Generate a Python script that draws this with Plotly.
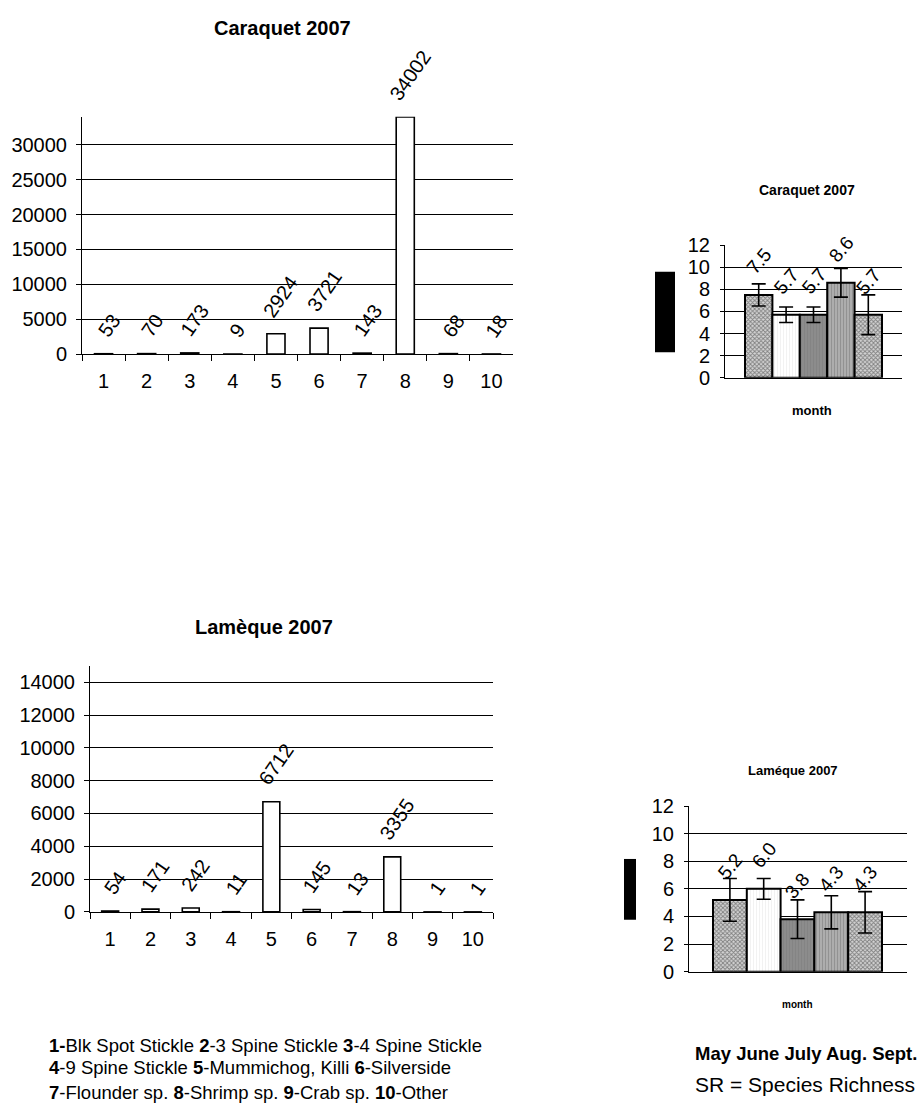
import plotly.graph_objects as go

# ---- data -------------------------------------------------------------
species = ["1", "2", "3", "4", "5", "6", "7", "8", "9", "10"]
caraquet_counts = [53, 70, 173, 9, 2924, 3721, 143, 34002, 68, 18]
lameque_counts = [54, 171, 242, 11, 6712, 145, 13, 3355, 1, 1]

months = ["May", "June", "July", "Aug.", "Sept."]
caraquet_sr = [7.5, 5.7, 5.7, 8.6, 5.7]
caraquet_sr_err = [1.0, 0.7, 0.7, 1.3, 1.8]
lameque_sr = [5.2, 6.0, 3.8, 4.3, 4.3]
lameque_sr_err = [1.55, 0.75, 1.4, 1.2, 1.5]

legend_lines = [
    "<b>1-</b>Blk Spot Stickle <b>2</b>-3 Spine Stickle <b>3</b>-4 Spine Stickle",
    "<b>4</b>-9 Spine Stickle <b>5</b>-Mummichog, Killi <b>6</b>-Silverside",
    "<b>7</b>-Flounder sp. <b>8</b>-Shrimp sp. <b>9</b>-Crab sp. <b>10</b>-Other",
]

# ---- page geometry helpers (pixel -> paper fraction) ------------------
W, H = 920, 1117
FONT = "Liberation Sans, Arial, sans-serif"


def fx(px):
    return px / W


def fy(py):
    return 1 - py / H


# fill style for each month bar
checker = dict(shape="x", fgcolor="#2a2a2a", bgcolor="#d4d4d4", size=3, solidity=0.5)
month_styles = [
    dict(color="#9a9a9a", pattern=checker),
    dict(color="#ffffff", pattern=dict(shape="|", fgcolor="#e2e2e2", bgcolor="#ffffff", size=3, solidity=0.3)),
    dict(color="#8a8a8a", pattern=dict(shape="|", fgcolor="#7a7a7a", bgcolor="#8c8c8c", size=3, solidity=0.3)),
    dict(color="#a5a5a5", pattern=dict(shape="|", fgcolor="#737373", bgcolor="#b0b0b0", size=3, solidity=0.4)),
    dict(color="#9a9a9a", pattern=checker),
]

fig = go.Figure()

# ---- species count bars ------------------------------------------------
for counts, xa, ya in [(caraquet_counts, "x", "y"), (lameque_counts, "x3", "y3")]:
    fig.add_trace(go.Bar(
        x=species, y=counts, width=0.42,
        marker=dict(color="white", line=dict(color="black", width=1.6)),
        xaxis=xa, yaxis=ya, hoverinfo="x+y",
    ))

# ---- species richness bars (one trace per month) ----------------------
for values, errs, xa, ya in [(caraquet_sr, caraquet_sr_err, "x2", "y2"),
                             (lameque_sr, lameque_sr_err, "x4", "y4")]:
    for m, v, e, st in zip(months, values, errs, month_styles):
        fig.add_trace(go.Bar(
            x=[m], y=[v], width=[1.0],
            marker=dict(color=st["color"], pattern=st["pattern"],
                        line=dict(color="black", width=2)),
            error_y=dict(type="data", array=[e], color="black", thickness=1.6, width=7),
            xaxis=xa, yaxis=ya, hoverinfo="x+y",
        ))

annotations = []

# rotated value labels above each bar (category position given by index)
for counts, xr, yr in [(caraquet_counts, "x", "y"), (lameque_counts, "x3", "y3")]:
    for idx, v in enumerate(counts):
        annotations.append(dict(
            x=idx, y=v, xref=xr, yref=yr, text=str(v), showarrow=False,
            textangle=-55, xanchor="center", yanchor="bottom",
            xshift=5, yshift=10, font=dict(size=20, color="black"),
        ))
for values, xr, yr in [(caraquet_sr, "x2", "y2"), (lameque_sr, "x4", "y4")]:
    for idx, v in enumerate(values):
        annotations.append(dict(
            x=idx, y=v, xref=xr, yref=yr, text=f"{v:.1f}", showarrow=False,
            textangle=-50, xanchor="center", yanchor="bottom",
            yshift=14, font=dict(size=19, color="black"),
        ))


def page_text(text, x, y, size, xanchor="center", bold=False):
    annotations.append(dict(
        x=fx(x), y=fy(y), xref="paper", yref="paper", showarrow=False,
        text=f"<b>{text}</b>" if bold else text, xanchor=xanchor, yanchor="middle",
        align="left", font=dict(size=size, color="black"),
    ))


page_text("Caraquet 2007", 282, 17, 20, bold=True)
page_text("Caraquet 2007", 807, 183, 14, bold=True)
page_text("month", 812, 408, 13, bold=True)
page_text("Lamèque 2007", 264, 628, 20, bold=True)
page_text("Laméque 2007", 793, 775, 13, bold=True)
page_text("month", 797, 1013, 10, bold=True)
page_text("May June July Aug. Sept.", 693, 1063, 18.5, xanchor="left", bold=True)
page_text("SR = Species Richness", 693, 1095, 21, xanchor="left")
for line, y in zip(legend_lines, [1055, 1078, 1103]):
    page_text(line, 47, y, 18.5, xanchor="left")

# solid blocks where the richness axis titles sit
shapes = [
    dict(type="rect", xref="paper", yref="paper", x0=fx(655), x1=fx(675),
         y0=fy(348), y1=fy(266), fillcolor="black", line=dict(width=0)),
    dict(type="rect", xref="paper", yref="paper", x0=fx(624), x1=fx(636),
         y0=fy(927), y1=fy(865), fillcolor="black", line=dict(width=0)),
]

count_x = dict(type="category", categoryorder="array", categoryarray=species,
               range=[-0.5, 9.5], showline=True, linecolor="black", linewidth=1,
               showgrid=False, tickson="boundaries", ticks="outside", ticklen=6,
               tickwidth=1, tickcolor="black", tickfont=dict(size=20),
               ticklabelstandoff=9)
count_y = dict(showline=True, linecolor="black", linewidth=1, showgrid=True,
               gridcolor="black", gridwidth=1, zeroline=False, ticks="outside",
               ticklen=5, tickcolor="black", tickformat="d",
               tickfont=dict(size=20), ticklabelstandoff=5)
month_x = dict(type="category", categoryorder="array", categoryarray=months,
               showline=True, linecolor="black", linewidth=1, showgrid=False,
               showticklabels=False, ticks="")
month_y = dict(range=[0, 12], dtick=2, showline=True, linecolor="black", linewidth=1,
               showgrid=True, gridcolor="black", gridwidth=1, zeroline=False,
               ticks="outside", ticklen=4, tickcolor="black",
               tickfont=dict(size=20), ticklabelstandoff=6)

fig.update_layout(
    width=W, height=H, margin=dict(l=0, r=0, t=0, b=0),
    paper_bgcolor="white", plot_bgcolor="white",
    font=dict(family=FONT, color="black"),
    showlegend=False, barmode="overlay",
    xaxis=dict(count_x, domain=[fx(82), fx(513)], anchor="y"),
    yaxis=dict(count_y, domain=[fy(350), fy(108)], range=[0, 34002], dtick=5000, anchor="x"),
    xaxis2=dict(month_x, domain=[fx(725), fx(902)], range=[-1.23, 5.23], anchor="y2"),
    yaxis2=dict(month_y, domain=[fy(374), fy(239)], anchor="x2"),
    xaxis3=dict(count_x, domain=[fx(90), fx(493)], anchor="y3"),
    yaxis3=dict(count_y, domain=[fy(919), fy(668)], range=[0, 15000], dtick=2000, anchor="x3"),
    xaxis4=dict(month_x, domain=[fx(689), fx(907)], range=[-1.21, 5.24], anchor="y4"),
    yaxis4=dict(month_y, domain=[fy(980), fy(811)], anchor="x4"),
    annotations=annotations, shapes=shapes,
)

fig.write_html("out.html")
